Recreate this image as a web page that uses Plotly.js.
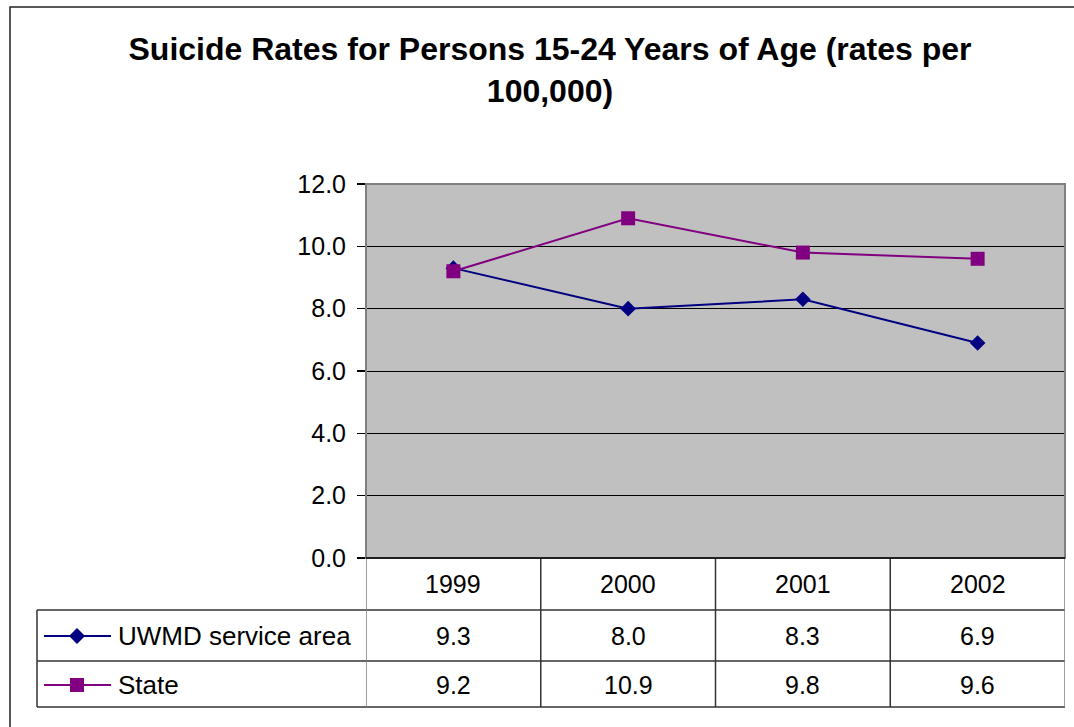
<!DOCTYPE html>
<html>
<head>
<meta charset="utf-8">
<script src="https://cdn.plot.ly/plotly-3.0.1.min.js"></script>
<style>html,body{margin:0;padding:0;background:#fff;}#chart{width:1074px;height:727px;}</style>
</head>
<body>
<div id="chart"></div>
<script>
const years = ['1999', '2000', '2001', '2002'];
const seriesNames = ['UWMD service area', 'State'];
const uwmd = [9.3, 8.0, 8.3, 6.9];
const state = [9.2, 10.9, 9.8, 9.6];
const yTicks = [0, 2, 4, 6, 8, 10, 12];

const W = 1074, H = 727;
const PL = 366, PR = 1065, PT = 184, PB = 558;
const px2x = p => (p - PL) / (PR - PL);
const py2y = p => (PB - p) / (PB - PT);
const FONT = 'Liberation Sans, Arial, sans-serif';
const navy = '#000080', purple = '#800080';

const traces = [
  {x: years, y: uwmd, name: seriesNames[0], type: 'scatter', mode: 'lines+markers',
   line: {color: navy, width: 2}, marker: {symbol: 'diamond', size: 12, color: navy}},
  {x: years, y: state, name: seriesNames[1], type: 'scatter', mode: 'lines+markers',
   line: {color: purple, width: 2}, marker: {symbol: 'square', size: 14, color: purple}}
];

const rowLines = [610, 661, 707];
const rowCenters = [584, 636, 685];
const lineCol = '#333333';
const shapes = [];
// plot area frame
shapes.push({type: 'rect', xref: 'paper', yref: 'paper', x0: 0, x1: 1, y0: 0, y1: 1,
  line: {color: '#808080', width: 2}, layer: 'above'});
// outer chart border
shapes.push({type: 'rect', xref: 'paper', yref: 'paper', x0: px2x(10), x1: px2x(1090), y0: py2y(7), y1: py2y(760),
  line: {color: '#222', width: 1.5}});
// table horizontal lines
rowLines.forEach(r => shapes.push({type: 'line', xref: 'paper', yref: 'paper',
  x0: px2x(37), x1: 1, y0: py2y(r), y1: py2y(r), line: {color: lineCol, width: 1.5}}));
// table left border
shapes.push({type: 'line', xref: 'paper', yref: 'paper', x0: px2x(37), x1: px2x(37),
  y0: py2y(610), y1: py2y(707), line: {color: lineCol, width: 1.5}});
// column separators (category boundaries)
for (let i = 0; i <= years.length; i++) {
  shapes.push({type: 'line', xref: 'x', yref: 'paper', x0: i - 0.5, x1: i - 0.5,
    y0: 0, y1: py2y(707), line: {color: (i === 0 || i === years.length) ? '#808080' : lineCol, width: 1.5}});
}
// x axis line
shapes.push({type: 'line', xref: 'paper', yref: 'paper', x0: 0, x1: 1, y0: 0, y1: 0,
  line: {color: '#000', width: 1.5}, layer: 'above'});
// legend keys
const keyX0 = 44, keyX1 = 111, keyMid = 77;
[[navy, 'diamond'], [purple, 'square']].forEach((k, i) => {
  const cy = rowCenters[i + 1];
  shapes.push({type: 'line', xref: 'paper', yref: 'paper', x0: px2x(keyX0), x1: px2x(keyX1),
    y0: py2y(cy), y1: py2y(cy), line: {color: k[0], width: 2}});
  if (k[1] === 'square') {
    shapes.push({type: 'rect', xref: 'paper', yref: 'paper', x0: px2x(keyMid - 7), x1: px2x(keyMid + 7),
      y0: py2y(cy + 7), y1: py2y(cy - 7), fillcolor: k[0], line: {width: 0}});
  } else {
    const d = 8;
    shapes.push({type: 'path', xref: 'paper', yref: 'paper',
      path: `M ${px2x(keyMid - d)} ${py2y(cy)} L ${px2x(keyMid)} ${py2y(cy - d)} L ${px2x(keyMid + d)} ${py2y(cy)} L ${px2x(keyMid)} ${py2y(cy + d)} Z`,
      fillcolor: k[0], line: {width: 0}});
  }
});

const annotations = [];
years.forEach((yr, i) => {
  annotations.push({xref: 'x', yref: 'paper', x: i, y: py2y(rowCenters[0]), text: yr,
    showarrow: false, xanchor: 'center', yanchor: 'middle', font: {family: FONT, size: 25, color: '#000'}});
  [uwmd, state].forEach((s, j) => {
    annotations.push({xref: 'x', yref: 'paper', x: i, y: py2y(rowCenters[j + 1]), text: s[i].toFixed(1),
      showarrow: false, xanchor: 'center', yanchor: 'middle', font: {family: FONT, size: 25, color: '#000'}});
  });
});
seriesNames.forEach((n, j) => {
  annotations.push({xref: 'paper', yref: 'paper', x: px2x(116), y: py2y(rowCenters[j + 1]), text: n,
    showarrow: false, xanchor: 'left', yanchor: 'middle', font: {family: FONT, size: 26, color: '#000'}});
});

const layout = {
  width: W, height: H,
  margin: {l: PL, r: W - PR, t: PT, b: H - PB, pad: 0},
  paper_bgcolor: '#fff', plot_bgcolor: '#C0C0C0',
  showlegend: false,
  title: {text: 'Suicide Rates for Persons 15-24 Years of Age (rates per<br>100,000)',
    font: {family: FONT, size: 32, color: '#000', weight: 'bold'},
    x: 550 / W, xanchor: 'center', y: 1 - 60 / H, yanchor: 'top', xref: 'container', yref: 'container'},
  xaxis: {type: 'category', range: [-0.5, years.length - 0.5], showticklabels: false, ticks: '',
    showgrid: false, zeroline: false, showline: false, fixedrange: true},
  yaxis: {range: [0, 12], tickvals: yTicks, ticktext: yTicks.map(v => v.toFixed(1)),
    ticks: 'outside', ticklen: 8, tickwidth: 1.5, tickcolor: '#000',
    showgrid: true, gridcolor: '#000', gridwidth: 1, zeroline: false,
    showline: false, ticklabelstandoff: 6,
    tickfont: {family: FONT, size: 25, color: '#000'}, fixedrange: true},
  shapes: shapes,
  annotations: annotations
};

Plotly.newPlot('chart', traces, layout, {displayModeBar: false, staticPlot: true});
</script>
</body>
</html>
